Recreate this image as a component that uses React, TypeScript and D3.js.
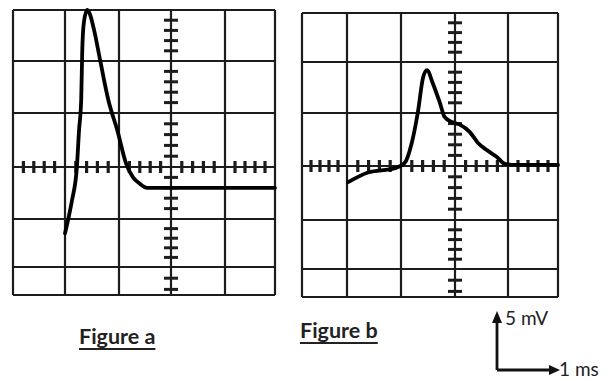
import * as d3 from 'd3';
import React, { useEffect, useRef } from 'react';

// oscilloscope screen: 1 ms per column, 5 mV per row (last row is cut)
const timeDivs = [0, 1, 2, 3, 4, 5];
const voltDivs = [15, 10, 5, 0, -5, -10, -12.5];
const scaleLabels = ['5 mV', '1 ms'];

// trace of figure a (time in ms, voltage in mV)
const timeA = [1.0, 1.06, 1.13, 1.22, 1.26, 1.3, 1.32, 1.35, 1.41, 1.46, 1.54, 1.65, 1.8, 1.98, 2.13, 2.27, 2.4, 2.54, 3.56, 5.0];
const voltA = [-6.5, -5.0, -3.2, 0, 3.4, 6.3, 11.1, 13.8, 15.0, 14.6, 13.0, 10.1, 6.3, 3.2, 0.4, -1.0, -1.6, -2.0, -2.0, -2.0];

// trace of figure b
const timeB = [1.02, 1.39, 1.89, 2.07, 2.2, 2.31, 2.41, 2.48, 2.59, 2.72, 2.81, 2.94, 3.09, 3.28, 3.43, 3.6, 3.79, 3.94, 4.14, 5.0];
const voltB = [-1.5, -0.6, -0.2, 0.3, 2.2, 5.0, 8.5, 9.2, 7.9, 6.0, 4.6, 4.15, 3.9, 3.2, 2.2, 1.5, 0.85, 0.2, 0.1, 0.1];

// where each printed grid sits on the page (the scan is not perfectly regular)
const panels = [
    { name: 'Figure a', time: timeA, volt: voltA, xs: [13, 65, 119, 171, 225, 275], ys: [10, 61, 113, 167, 219, 267, 295], lx: 79, ly: 344 },
    { name: 'Figure b', time: timeB, volt: voltB, xs: [302, 347, 401, 455, 508, 558], ys: [13, 62, 113, 166, 220, 269, 297], lx: 300, ly: 338 },
];

const ink = '#1c1c1c';

function doScope(svg, p) {
    const x = d3.scaleLinear().domain(timeDivs).range(p.xs);
    const y = d3.scaleLinear().domain(voltDivs).range(p.ys);
    const top = d3.max(voltDivs), bottom = d3.min(voltDivs);
    const g = svg.append('g');

    g.selectAll('line.v').data(timeDivs).join('line')
        .attr('class', 'v')
        .attr('x1', d => x(d)).attr('x2', d => x(d))
        .attr('y1', y(top)).attr('y2', y(bottom))
        .attr('stroke', ink).attr('stroke-width', 2.2);

    g.selectAll('line.h').data(voltDivs).join('line')
        .attr('class', 'h')
        .attr('x1', x(0)).attr('x2', x(5))
        .attr('y1', d => y(d)).attr('y2', d => y(d))
        .attr('stroke', ink).attr('stroke-width', 2.2);

    // small ticks on the centre axes, 5 per division
    const tTicks = d3.range(1, 25).filter(k => k % 5 !== 0).map(k => k / 5);
    g.selectAll('line.tt').data(tTicks).join('line')
        .attr('class', 'tt')
        .attr('x1', d => x(d)).attr('x2', d => x(d))
        .attr('y1', y(0) - 6).attr('y2', y(0) + 6)
        .attr('stroke', ink).attr('stroke-width', 3.2);

    const vTicks = d3.range(-12, 15).filter(v => v % 5 !== 0);
    g.selectAll('line.vt').data(vTicks).join('line')
        .attr('class', 'vt')
        .attr('x1', x(3) - 7).attr('x2', x(3) + 7)
        .attr('y1', d => y(d)).attr('y2', d => y(d))
        .attr('stroke', ink).attr('stroke-width', 3);

    const pts = p.time.map((t, i) => [t, p.volt[i]]);
    const line = d3.line()
        .x(d => x(d[0]))
        .y(d => y(d[1]))
        .curve(d3.curveMonotoneX);

    g.append('path')
        .datum(pts)
        .attr('fill', 'none')
        .attr('stroke', '#000')
        .attr('stroke-width', 3.8)
        .attr('stroke-linejoin', 'round')
        .attr('stroke-linecap', 'round')
        .attr('d', line);

    const label = g.append('text')
        .attr('x', p.lx).attr('y', p.ly)
        .attr('font-family', 'Lato, sans-serif')
        .attr('font-weight', 700)
        .attr('font-size', 21.5)
        .attr('fill', '#222')
        .text(p.name);
    const w = label.node().getComputedTextLength();
    g.append('line')
        .attr('x1', p.lx).attr('x2', p.lx + w)
        .attr('y1', p.ly + 5).attr('y2', p.ly + 5)
        .attr('stroke', '#222').attr('stroke-width', 2);
}

function doScaleBar(svg) {
    const ox = 497, oy = 370;
    const g = svg.append('g');
    g.append('path')
        .attr('d', `M${ox},${oy} L${ox},${318} M${ox},${oy} L${552},${oy}`)
        .attr('fill', 'none').attr('stroke', '#111').attr('stroke-width', 2.8);
    g.append('path')
        .attr('d', `M${ox - 5},${323} L${ox},${311} L${ox + 5},${323} Z`)
        .attr('fill', '#111');
    g.append('path')
        .attr('d', `M${549},${oy - 5} L${560},${oy} L${549},${oy + 5} Z`)
        .attr('fill', '#111');
    g.append('text')
        .attr('x', 505).attr('y', 325)
        .attr('font-family', 'Lato, sans-serif').attr('font-size', 19)
        .attr('fill', '#222')
        .text(scaleLabels[0]);
    g.append('text')
        .attr('x', 559).attr('y', 376)
        .attr('font-family', 'Lato, sans-serif').attr('font-size', 19)
        .attr('fill', '#222')
        .text(scaleLabels[1]);
}

export default function App() {
    const ref = useRef(null);
    useEffect(() => {
        const svg = d3.select(ref.current);
        svg.selectAll('*').remove();
        panels.forEach(p => doScope(svg, p));
        doScaleBar(svg);
    }, []);

    return (
        <svg ref={ref} width={614} height={381}
            style={{ position: 'absolute', left: 0, top: 0, background: '#fff' }} />
    );
}
